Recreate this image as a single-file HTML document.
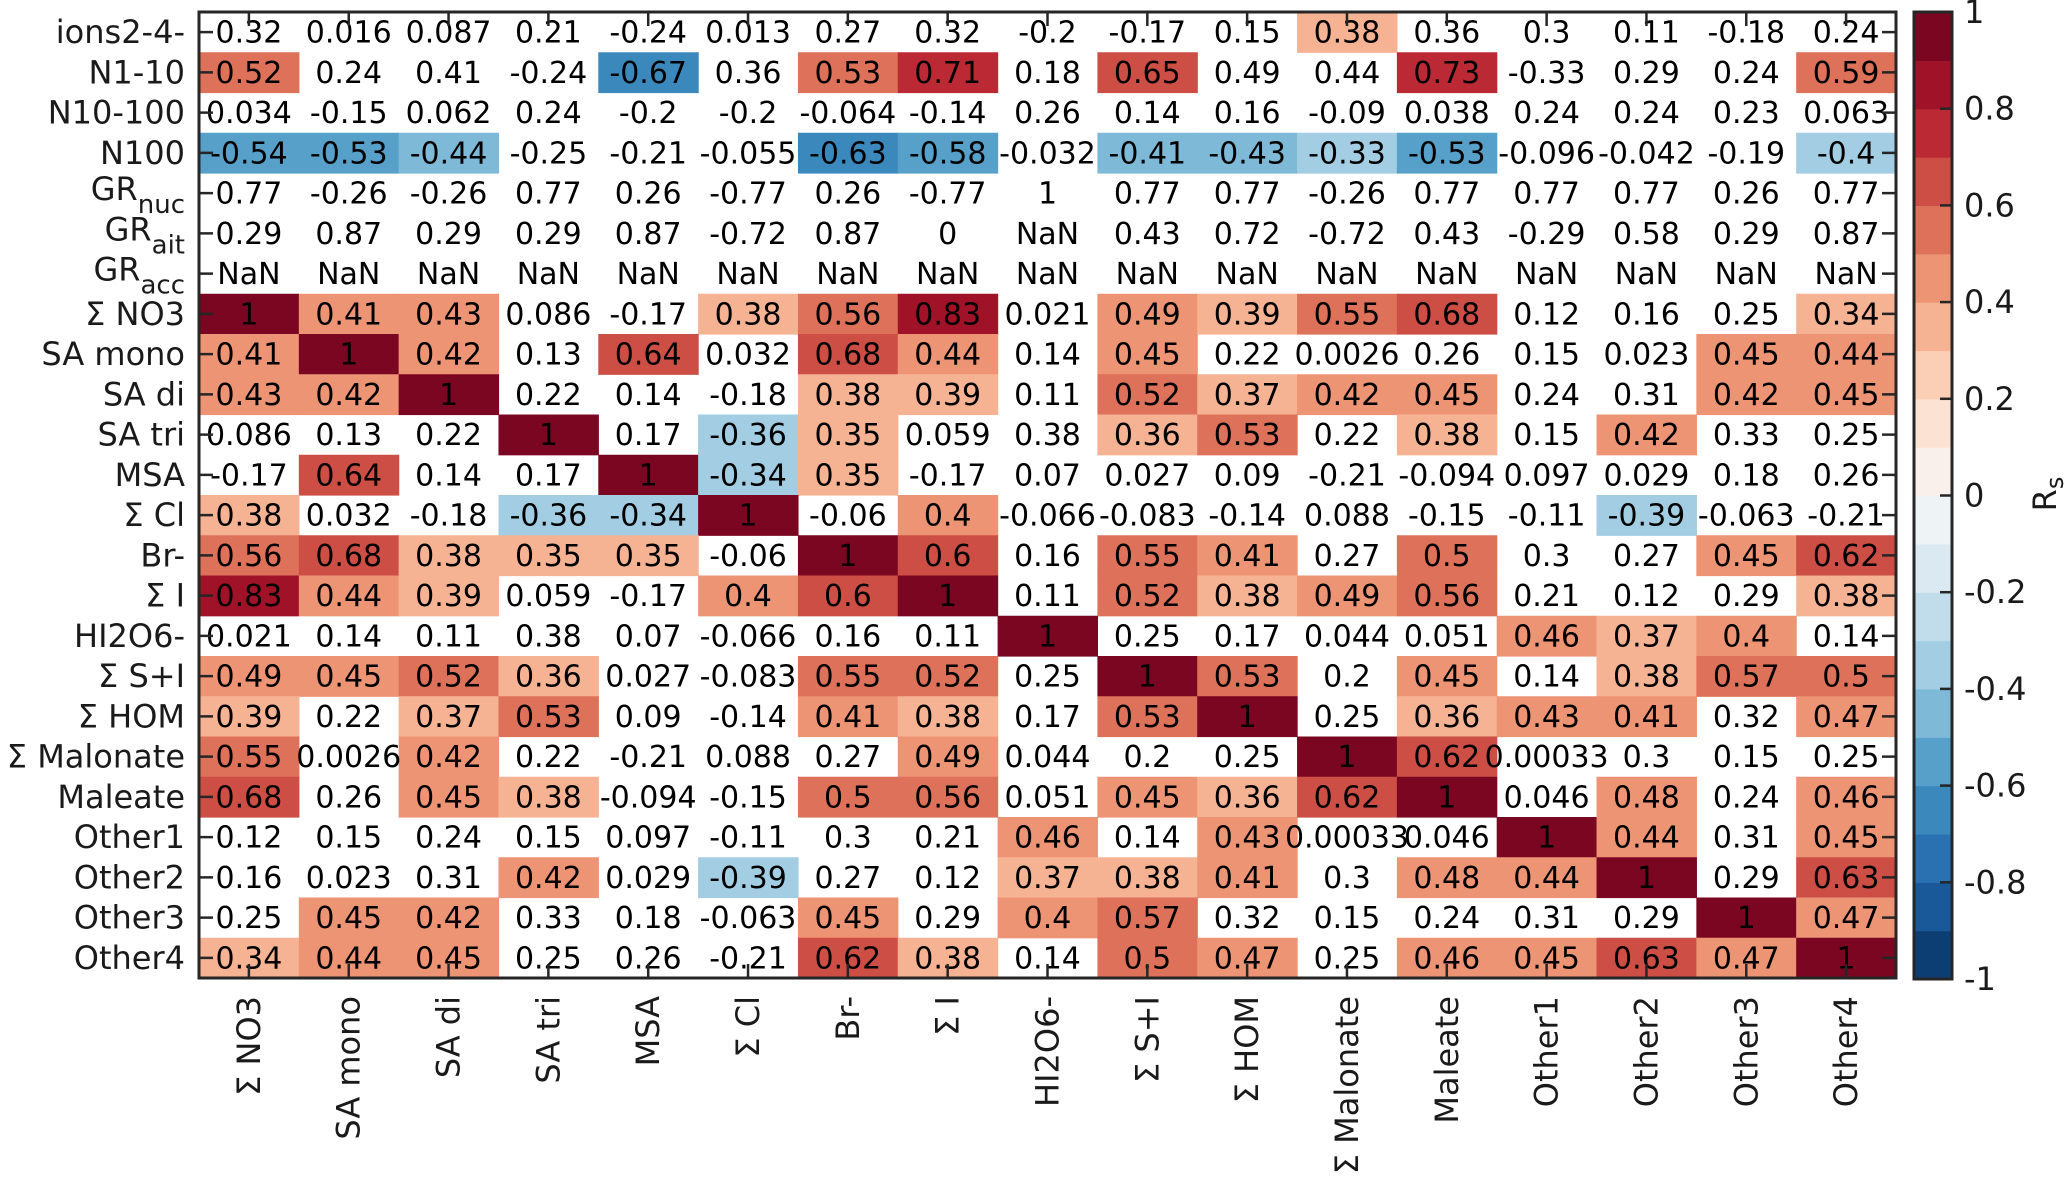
<!DOCTYPE html>
<html><head><meta charset="utf-8"><style>
html,body{margin:0;padding:0;background:#fff;}
svg{display:block;font-family:"DejaVu Sans","Liberation Sans",sans-serif;}
</style></head><body>
<svg id="chart" width="2067" height="1177" viewBox="0 0 2067 1177" xmlns="http://www.w3.org/2000/svg">
<g id="cells"></g>
<g id="labels"></g>
<g id="ticks"></g>
<g id="ylab"></g>
<g id="xlab"></g>
<g id="cbar"></g>
</svg>
<script>
const rowLabels = ["ions2-4-","N1-10","N10-100","N100","GR|nuc","GR|ait","GR|acc","Σ NO3","SA mono","SA di","SA tri","MSA","Σ Cl","Br-","Σ I","HI2O6-","Σ S+I","Σ HOM","Σ Malonate","Maleate","Other1","Other2","Other3","Other4"];
const colLabels = ["Σ NO3","SA mono","SA di","SA tri","MSA","Σ Cl","Br-","Σ I","HI2O6-","Σ S+I","Σ HOM","Σ Malonate","Maleate","Other1","Other2","Other3","Other4"];
const values = [
[0.32,0.016,0.087,0.21,-0.24,0.013,0.27,0.32,-0.2,-0.17,0.15,0.38,0.36,0.3,0.11,-0.18,0.24],
[0.52,0.24,0.41,-0.24,-0.67,0.36,0.53,0.71,0.18,0.65,0.49,0.44,0.73,-0.33,0.29,0.24,0.59],
[0.034,-0.15,0.062,0.24,-0.2,-0.2,-0.064,-0.14,0.26,0.14,0.16,-0.09,0.038,0.24,0.24,0.23,0.063],
[-0.54,-0.53,-0.44,-0.25,-0.21,-0.055,-0.63,-0.58,-0.032,-0.41,-0.43,-0.33,-0.53,-0.096,-0.042,-0.19,-0.4],
[0.77,-0.26,-0.26,0.77,0.26,-0.77,0.26,-0.77,1,0.77,0.77,-0.26,0.77,0.77,0.77,0.26,0.77],
[0.29,0.87,0.29,0.29,0.87,-0.72,0.87,0,NaN,0.43,0.72,-0.72,0.43,-0.29,0.58,0.29,0.87],
[NaN,NaN,NaN,NaN,NaN,NaN,NaN,NaN,NaN,NaN,NaN,NaN,NaN,NaN,NaN,NaN,NaN],
[1,0.41,0.43,0.086,-0.17,0.38,0.56,0.83,0.021,0.49,0.39,0.55,0.68,0.12,0.16,0.25,0.34],
[0.41,1,0.42,0.13,0.64,0.032,0.68,0.44,0.14,0.45,0.22,0.0026,0.26,0.15,0.023,0.45,0.44],
[0.43,0.42,1,0.22,0.14,-0.18,0.38,0.39,0.11,0.52,0.37,0.42,0.45,0.24,0.31,0.42,0.45],
[0.086,0.13,0.22,1,0.17,-0.36,0.35,0.059,0.38,0.36,0.53,0.22,0.38,0.15,0.42,0.33,0.25],
[-0.17,0.64,0.14,0.17,1,-0.34,0.35,-0.17,0.07,0.027,0.09,-0.21,-0.094,0.097,0.029,0.18,0.26],
[0.38,0.032,-0.18,-0.36,-0.34,1,-0.06,0.4,-0.066,-0.083,-0.14,0.088,-0.15,-0.11,-0.39,-0.063,-0.21],
[0.56,0.68,0.38,0.35,0.35,-0.06,1,0.6,0.16,0.55,0.41,0.27,0.5,0.3,0.27,0.45,0.62],
[0.83,0.44,0.39,0.059,-0.17,0.4,0.6,1,0.11,0.52,0.38,0.49,0.56,0.21,0.12,0.29,0.38],
[0.021,0.14,0.11,0.38,0.07,-0.066,0.16,0.11,1,0.25,0.17,0.044,0.051,0.46,0.37,0.4,0.14],
[0.49,0.45,0.52,0.36,0.027,-0.083,0.55,0.52,0.25,1,0.53,0.2,0.45,0.14,0.38,0.57,0.5],
[0.39,0.22,0.37,0.53,0.09,-0.14,0.41,0.38,0.17,0.53,1,0.25,0.36,0.43,0.41,0.32,0.47],
[0.55,0.0026,0.42,0.22,-0.21,0.088,0.27,0.49,0.044,0.2,0.25,1,0.62,0.00033,0.3,0.15,0.25],
[0.68,0.26,0.45,0.38,-0.094,-0.15,0.5,0.56,0.051,0.45,0.36,0.62,1,0.046,0.48,0.24,0.46],
[0.12,0.15,0.24,0.15,0.097,-0.11,0.3,0.21,0.46,0.14,0.43,0.00033,0.046,1,0.44,0.31,0.45],
[0.16,0.023,0.31,0.42,0.029,-0.39,0.27,0.12,0.37,0.38,0.41,0.3,0.48,0.44,1,0.29,0.63],
[0.25,0.45,0.42,0.33,0.18,-0.063,0.45,0.29,0.4,0.57,0.32,0.15,0.24,0.31,0.29,1,0.47],
[0.34,0.44,0.45,0.25,0.26,-0.21,0.62,0.38,0.14,0.5,0.47,0.25,0.46,0.45,0.63,0.47,1]
];
const significant = [
"00000000000100000","10001011010010001","00000000000000000","11100011011110001",
"00000000000000000","00000000000000000","00000000000000000","11100111011110001",
"11101011010000011","11100011011110011","00010110011010100","01001110000000000",
"10011101000000100","11111011011010011","11100111011110001","00000000100001110",
"11110011011010111","10110011011011101","10100001000110000","10110011011110101",
"00000000101001101","00010100111011101","01100010110000011","11100011011011111"
];
const cbTicks = [1,0.8,0.6,0.4,0.2,0,-0.2,-0.4,-0.6,-0.8,-1];

const NS="http://www.w3.org/2000/svg";
const L=199,R=1896,T=12,B=978;
const nR=rowLabels.length,nC=colLabels.length;
const cw=(R-L)/nC, rh=(B-T)/nR;
const xPos=c=>L+c*cw, yPos=r=>T+r*rh;
const CB={x0:1914,x1:1952,y0:12,y1:979};
const cbY=v=>CB.y0+(1-v)/2*(CB.y1-CB.y0);
const anchors=[[103,0,31],[178,24,43],[214,96,77],[244,165,130],[253,219,199],[247,247,247],[209,229,240],[146,197,222],[67,147,195],[33,102,172],[5,48,97]];
function colorAt(v){let t=(1-v)/2*10;t=Math.max(0,Math.min(10,t));const i=Math.min(9,Math.floor(t)),f=t-i;const a=anchors[i],b=anchors[i+1];return `rgb(${a.map((x,k)=>Math.round(x+(b[k]-x)*f)).join(',')})`;}
function binColor(v){let b=Math.floor(v*10);if(v>=1)b=9;if(b<-10)b=-10;return colorAt((b+0.5)/10);}
function mk(tag,attrs,parent){const e=document.createElementNS(NS,tag);for(const k in attrs)e.setAttribute(k,attrs[k]);parent.appendChild(e);return e;}
const gC=document.getElementById('cells'),gL=document.getElementById('labels'),gT=document.getElementById('ticks'),gY=document.getElementById('ylab'),gX=document.getElementById('xlab'),gB=document.getElementById('cbar');
for(let r=0;r<nR;r++)for(let c=0;c<nC;c++){
 const v=values[r][c];
 if(significant[r][c]==='1' && !isNaN(v)){
  const e=mk('rect',{x:xPos(c),y:yPos(r),width:cw+0.6,height:rh+0.6,fill:binColor(v)},gC);
  
  
 }
 const t=mk('text',{x:xPos(c)+cw/2,y:yPos(r)+rh/2+1,'text-anchor':'middle','dominant-baseline':'central','font-size':30,fill:'#000'},gL);
 t.textContent=isNaN(v)?'NaN':String(v);
 
 
}
const fr=mk('rect',{x:L,y:T,width:R-L,height:B-T,fill:'none',stroke:'#262626','stroke-width':3},gT);


for(let r=0;r<nR;r++){
 const y=yPos(r)+rh/2;
 mk('line',{x1:L,x2:L+14,y1:y,y2:y,stroke:'#262626','stroke-width':2.5},gT);
 mk('line',{x1:R-14,x2:R,y1:y,y2:y,stroke:'#262626','stroke-width':2.5},gT);
 const parts=rowLabels[r].split('|');
 const t=mk('text',{x:185,y:y+(parts.length>1?-4:0),'text-anchor':'end','dominant-baseline':'central','font-size':32,fill:'#1a1a1a'},gY);
 
 
 if(parts.length>1){t.textContent=parts[0];const s=mk('tspan',{dy:16,'font-size':26},t);s.textContent=parts[1];}
 else t.textContent=parts[0];
}
for(let c=0;c<nC;c++){
 const x=xPos(c)+cw/2;
 mk('line',{x1:x,x2:x,y1:B,y2:B-14,stroke:'#262626','stroke-width':2.5},gT);
 mk('line',{x1:x,x2:x,y1:T,y2:T+14,stroke:'#262626','stroke-width':2.5},gT);
 const t=mk('text',{x:0,y:0,transform:`translate(${x},996) rotate(-90)`,'text-anchor':'end','dominant-baseline':'central','font-size':32,fill:'#1a1a1a'},gX);
 t.textContent=colLabels[c];
 
 
}
for(let b=-10;b<10;b++){
 const e=mk('rect',{x:CB.x0,y:cbY((b+1)/10),width:CB.x1-CB.x0,height:cbY(b/10)-cbY((b+1)/10)+0.6,fill:colorAt((b+0.5)/10)},gB);
 
 
}
mk('rect',{x:CB.x0,y:CB.y0,width:CB.x1-CB.x0,height:CB.y1-CB.y0,fill:'none',stroke:'#262626','stroke-width':3},gB);
cbTicks.forEach(v=>{
 const y=cbY(v);
 mk('line',{x1:CB.x1-12,x2:CB.x1,y1:y,y2:y,stroke:'#262626','stroke-width':2.5},gB);
 const t=mk('text',{x:1964,y:y,'dominant-baseline':'central','font-size':32,fill:'#1a1a1a'},gB);
 t.textContent=String(v);
 
 
});
const rs=mk('text',{x:0,y:0,transform:'translate(2045,494) rotate(-90)','text-anchor':'middle','dominant-baseline':'central','font-size':32,fill:'#1a1a1a'},gB);


rs.textContent='R';
const sub=mk('tspan',{dy:10,'font-size':24},rs);sub.textContent='s';
</script>
</body></html>
